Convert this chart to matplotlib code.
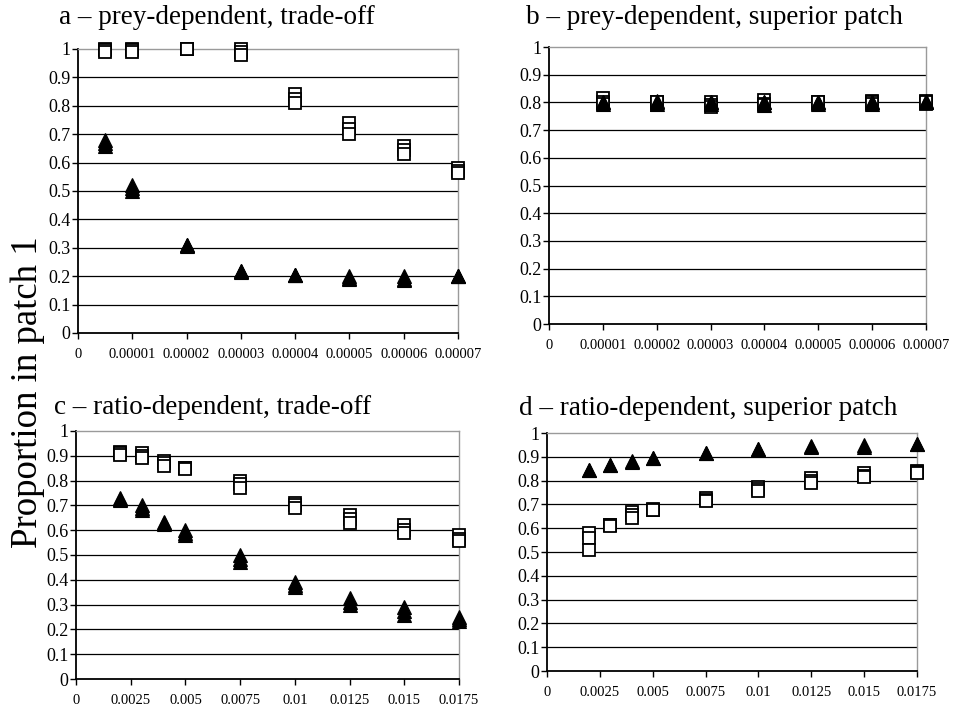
import matplotlib
matplotlib.use("Agg")
import matplotlib.pyplot as plt

plt.rcParams["font.family"] = ["Liberation Serif", "DejaVu Serif"]

# ---- panel a: prey-dependent, trade-off ----
a_x = [0.000005, 0.00001, 0.00002, 0.00003, 0.00004, 0.00005, 0.00006, 0.00007]
a_sq = [
    [1.000, 1.000, 1.000, 1.000, 0.840, 0.740, 0.660, 0.580],
    [0.995, 0.995, 1.000, 0.990, 0.825, 0.720, 0.645, 0.570],
    [0.990, 0.990, 1.000, 0.980, 0.810, 0.700, 0.630, 0.565],
]
a_tri = [
    [0.680, 0.520, 0.310, 0.220, 0.205, 0.200, 0.200, 0.200],
    [0.670, 0.510, 0.310, 0.220, 0.205, 0.195, 0.190, 0.200],
    [0.660, 0.500, 0.305, 0.215, 0.205, 0.190, 0.185, 0.200],
]

# ---- panel b: prey-dependent, superior patch ----
b_x = [0.00001, 0.00002, 0.00003, 0.00004, 0.00005, 0.00006, 0.00007]
b_sq = [
    [0.815, 0.800, 0.800, 0.810, 0.800, 0.805, 0.805],
    [0.800, 0.790, 0.790, 0.795, 0.795, 0.800, 0.795],
    [0.795, 0.800, 0.785, 0.790, 0.800, 0.795, 0.800],
]
b_tri = [
    [0.800, 0.805, 0.800, 0.800, 0.800, 0.800, 0.805],
    [0.795, 0.795, 0.795, 0.790, 0.795, 0.795, 0.800],
    [0.800, 0.800, 0.800, 0.800, 0.800, 0.800, 0.800],
]

# ---- panel c: ratio-dependent, trade-off ----
c_x = [0.002, 0.003, 0.004, 0.005, 0.0075, 0.01, 0.0125, 0.015, 0.0175]
c_sq = [
    [0.915, 0.910, 0.880, 0.850, 0.800, 0.710, 0.660, 0.620, 0.580],
    [0.910, 0.900, 0.870, 0.850, 0.785, 0.700, 0.645, 0.600, 0.565],
    [0.905, 0.890, 0.860, 0.845, 0.770, 0.690, 0.630, 0.590, 0.555],
]
c_tri = [
    [0.730, 0.700, 0.635, 0.600, 0.500, 0.390, 0.325, 0.290, 0.250],
    [0.725, 0.690, 0.630, 0.590, 0.485, 0.380, 0.310, 0.275, 0.240],
    [0.720, 0.680, 0.625, 0.580, 0.470, 0.370, 0.300, 0.260, 0.235],
]

# ---- panel d: ratio-dependent, superior patch ----
d_x = [0.002, 0.003, 0.004, 0.005, 0.0075, 0.01, 0.0125, 0.015, 0.0175]
d_sq = [
    [0.580, 0.615, 0.670, 0.680, 0.725, 0.775, 0.810, 0.830, 0.840],
    [0.560, 0.613, 0.655, 0.678, 0.720, 0.765, 0.800, 0.820, 0.835],
    [0.510, 0.610, 0.645, 0.675, 0.715, 0.755, 0.790, 0.815, 0.832],
]
d_tri = [
    [0.846, 0.867, 0.883, 0.897, 0.918, 0.933, 0.944, 0.950, 0.955],
    [0.845, 0.865, 0.880, 0.895, 0.917, 0.932, 0.943, 0.943, 0.955],
]

prey_ticks = [0, 0.00001, 0.00002, 0.00003, 0.00004, 0.00005, 0.00006, 0.00007]
prey_labels = ["0", "0.00001", "0.00002", "0.00003", "0.00004", "0.00005", "0.00006", "0.00007"]
ratio_ticks = [0, 0.0025, 0.005, 0.0075, 0.01, 0.0125, 0.015, 0.0175]
ratio_labels = ["0", "0.0025", "0.005", "0.0075", "0.01", "0.0125", "0.015", "0.0175"]
y_ticks = [round(0.1 * i, 1) for i in range(11)]
y_labels = ["0"] + ["0.%d" % i for i in range(1, 10)] + ["1"]

fig = plt.figure(figsize=(9.66, 7.07), dpi=100)

panels = [
    # axes rect, title, x, squares, triangles, ticks, tick labels, xmax, title position
    ([0.0807, 0.529, 0.3934, 0.4017], "a \u2013 prey-dependent, trade-off",
     a_x, a_sq, a_tri, prey_ticks, prey_labels, 0.00007, (0.061, 0.975)),
    ([0.5683, 0.5417, 0.3903, 0.3918], "b \u2013 prey-dependent, superior patch",
     b_x, b_sq, b_tri, prey_ticks, prey_labels, 0.00007, (0.545, 0.975)),
    ([0.0787, 0.0396, 0.3965, 0.3508], "c \u2013 ratio-dependent, trade-off",
     c_x, c_sq, c_tri, ratio_ticks, ratio_labels, 0.0175, (0.056, 0.423)),
    ([0.5663, 0.0509, 0.3830, 0.3366], "d \u2013 ratio-dependent, superior patch",
     d_x, d_sq, d_tri, ratio_ticks, ratio_labels, 0.0175, (0.537, 0.422)),
]

for rect, title, xs, sq, tri, xt, xl, xmax, tpos in panels:
    ax = fig.add_axes(rect)
    ax.set_xlim(0, xmax)
    ax.set_ylim(0, 1)
    for yv in y_ticks[1:-1]:
        ax.axhline(yv, color="black", lw=0.9, zorder=1)
    for rep in sq:
        ax.plot(xs, rep, linestyle="none", marker="s", markersize=9,
                markerfacecolor="white", markeredgecolor="black",
                markeredgewidth=1.3, zorder=3, clip_on=False)
    for rep in tri:
        ax.plot(xs, rep, linestyle="none", marker="^", markersize=9.8,
                markerfacecolor="black", markeredgecolor="black",
                markeredgewidth=0.8, zorder=4, clip_on=False)
    ax.set_xticks(xt)
    ax.set_xticklabels(xl, fontsize=10.5)
    ax.set_yticks(y_ticks)
    ax.set_yticklabels(y_labels, fontsize=13)
    ax.tick_params(axis="both", direction="out", length=4.5, width=1,
                   color="black", pad=1)
    ax.tick_params(axis="x", pad=6)
    for side in ("left", "bottom"):
        ax.spines[side].set_color("black")
        ax.spines[side].set_linewidth(1.3)
    for side in ("top", "right"):
        ax.spines[side].set_color("#9a9a9a")
        ax.spines[side].set_linewidth(1.0)
    fig.text(tpos[0], tpos[1], title, fontsize=19.5, ha="left", va="center")

fig.text(0.029, 0.4455, "Proportion in patch 1", fontsize=26.5, rotation=90,
         ha="center", va="center")

fig.savefig("out.png", dpi=100, facecolor="white")
